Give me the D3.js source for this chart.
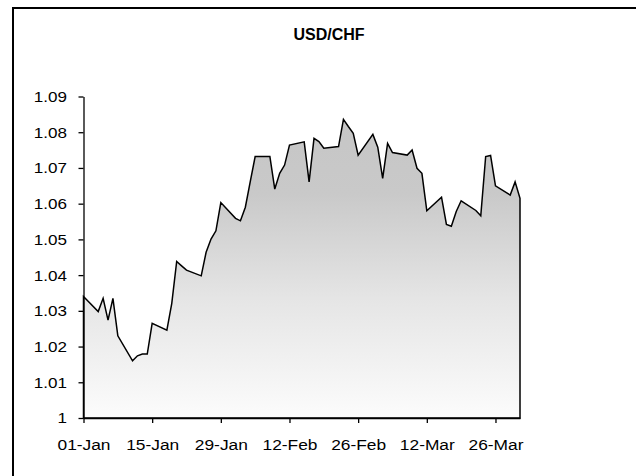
<!DOCTYPE html>
<html>
<head>
<meta charset="utf-8">
<script src="https://cdn.jsdelivr.net/npm/d3@7"></script>
<style>
  body { margin: 0; background: #fff; }
  svg text { font-family: "Liberation Sans", Arial, sans-serif; fill: #000; }
</style>
</head>
<body>
<div id="chart"></div>
<script>
// daily USD/CHF closes, weekdays Q1 2010
var dates = [
  "2010-01-01","2010-01-04","2010-01-05","2010-01-06","2010-01-07","2010-01-08",
  "2010-01-11","2010-01-12","2010-01-13","2010-01-14","2010-01-15",
  "2010-01-18","2010-01-19","2010-01-20","2010-01-21","2010-01-22",
  "2010-01-25","2010-01-26","2010-01-27","2010-01-28","2010-01-29",
  "2010-02-01","2010-02-02","2010-02-03","2010-02-04","2010-02-05",
  "2010-02-08","2010-02-09","2010-02-10","2010-02-11","2010-02-12",
  "2010-02-15","2010-02-16","2010-02-17","2010-02-18","2010-02-19",
  "2010-02-22","2010-02-23","2010-02-24","2010-02-25","2010-02-26",
  "2010-03-01","2010-03-02","2010-03-03","2010-03-04","2010-03-05",
  "2010-03-08","2010-03-09","2010-03-10","2010-03-11","2010-03-12",
  "2010-03-15","2010-03-16","2010-03-17","2010-03-18","2010-03-19",
  "2010-03-22","2010-03-23","2010-03-24","2010-03-25","2010-03-26",
  "2010-03-29","2010-03-30","2010-03-31"
];
var rates = [
  1.0340,1.0298,1.0335,1.0274,1.0335,1.0230,
  1.0160,1.0174,1.0179,1.0179,1.0265,
  1.0246,1.0321,1.0438,1.0426,1.0414,
  1.0398,1.0464,1.0501,1.0524,1.0603,
  1.0559,1.0552,1.0590,1.0662,1.0732,
  1.0732,1.0641,1.0685,1.0708,1.0764,
  1.0773,1.0661,1.0783,1.0774,1.0755,
  1.0760,1.0836,1.0816,1.0797,1.0736,
  1.0794,1.0758,1.0671,1.0769,1.0743,
  1.0736,1.0750,1.0699,1.0685,1.0580,
  1.0618,1.0542,1.0537,1.0578,1.0608,
  1.0581,1.0566,1.0732,1.0735,1.0650,
  1.0624,1.0661,1.0615
];
var tickDates = ["2010-01-01","2010-01-15","2010-01-29","2010-02-12","2010-02-26","2010-03-12","2010-03-26"];
var yTicks = [1, 1.01, 1.02, 1.03, 1.04, 1.05, 1.06, 1.07, 1.08, 1.09];
var title = "USD/CHF";

var width = 636;
var height = 476;
var parse = d3.utcParse("%Y-%m-%d");
var fmt = d3.utcFormat("%d-%b");

var data = dates.map(function(d, i){
    return { date: parse(d), value: rates[i] };
});

var svg = d3.select("#chart")
            .append("svg")
            .attr("width", width)
            .attr("height", height);

// outer frame, runs off the right and bottom edges like the original
svg.append("rect")
   .attr("x", 13)
   .attr("y", 8)
   .attr("width", 700)
   .attr("height", 600)
   .attr("fill", "#fff")
   .attr("stroke", "#000")
   .attr("stroke-width", 2);

var x = d3.scaleUtc()
          .domain([parse("2010-01-01"), parse("2010-03-31")])
          .range([83.5, 520]);

var y = d3.scaleLinear()
          .domain([1, 1.09])
          .range([418, 96.5]);

var grad = svg.append("defs").append("linearGradient")
              .attr("id", "fade")
              .attr("gradientUnits", "userSpaceOnUse")
              .attr("x1", 0).attr("x2", 0)
              .attr("y1", y(1.0836)).attr("y2", y(1));
grad.append("stop").attr("offset", 0).attr("stop-color", "#c6c6c6");
grad.append("stop").attr("offset", 0.25).attr("stop-color", "#c9c9c9");
grad.append("stop").attr("offset", 0.6).attr("stop-color", "#e5e5e5");
grad.append("stop").attr("offset", 1).attr("stop-color", "#fcfcfc");

var area = d3.area()
             .x(function(d){ return x(d.date); })
             .y0(y(1))
             .y1(function(d){ return y(d.value); });

svg.append("path")
   .datum(data)
   .attr("d", area)
   .attr("fill", "url(#fade)")
   .attr("stroke", "#000")
   .attr("stroke-width", 1.5)
   .attr("stroke-linejoin", "miter");

var xAxis = svg.append("g")
               .attr("transform", "translate(0," + y(1) + ")")
               .call(d3.axisBottom(x)
                       .tickValues(tickDates.map(parse))
                       .tickFormat(fmt)
                       .tickSize(5)
                       .tickSizeOuter(0)
                       .tickPadding(16));

var yAxis = svg.append("g")
               .attr("transform", "translate(83.5,0)")
               .call(d3.axisLeft(y)
                       .tickValues(yTicks)
                       .tickFormat(function(d){ return d3.format("")(+d.toFixed(2)); })
                       .tickSize(5)
                       .tickSizeOuter(0)
                       .tickPadding(10));

svg.selectAll(".domain, .tick line")
   .attr("stroke", "#000")
   .attr("stroke-width", 1.3);

xAxis.selectAll("text")
     .attr("font-size", "15.5px")
     .attr("transform", "scale(1.12,1)");

yAxis.selectAll("text")
     .attr("font-size", "15.5px")
     .attr("x", -15)
     .attr("transform", "scale(1.1,1)");

svg.append("text")
   .attr("x", 329)
   .attr("y", 40)
   .attr("text-anchor", "middle")
   .attr("font-size", "16px")
   .attr("font-weight", "bold")
   .text(title);
</script>
</body>
</html>
